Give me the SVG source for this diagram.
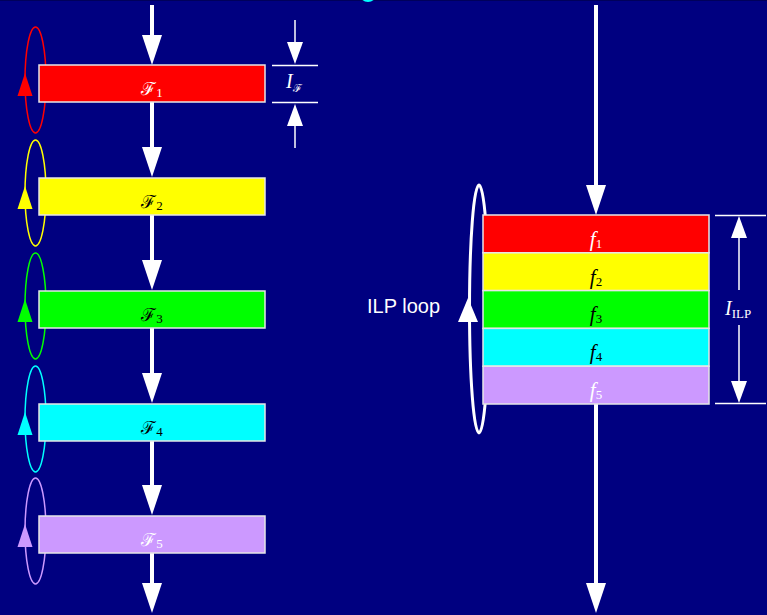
<svg xmlns="http://www.w3.org/2000/svg" width="767" height="615" viewBox="0 0 767 615">
  <style>
    .bg { fill: #000080; }
    .shaft { stroke: #ffffff; stroke-width: 4; fill: none; }
    .thin { stroke: #ffffff; stroke-width: 1.5; fill: none; }
    .head { fill: #ffffff; }
    .box { stroke: #e6e6e6; stroke-width: 1.5; }
    .loop { fill: none; stroke-width: 1.5; }
    .lbl { font-family: "DejaVu Serif", "Liberation Serif", serif; font-size: 18px; text-anchor: middle; }
    .sub { font-family: "Liberation Serif", serif; font-style: normal; font-size: 13px; }
    .fl { font-family: "Liberation Serif", serif; font-style: italic; font-size: 21px; text-anchor: middle; }
    .dim { font-family: "Liberation Serif", serif; font-style: italic; font-size: 20px; fill: #ffffff; }
    .w { fill: #ffffff; }
    .k { fill: #000000; }
  </style>
  <defs>
    <!-- large downward arrowhead, origin at top centre -->
    <path id="bigDown" class="head" d="M-10,0 L10,0 L0,30 Z"/>
    <!-- small dimension arrowheads, origin at the tip -->
    <path id="smDown" class="head" d="M-8,-22 L8,-22 L0,0 Z"/>
    <path id="smUp" class="head" d="M-8,22 L8,22 L0,0 Z"/>
    <!-- loop arrowhead, origin at loop centre height on the left edge -->
    <path id="loopUp" d="M0,-7 L7.5,16 L-7.5,16 Z"/>
  </defs>

  <rect class="bg" x="0" y="0" width="767" height="615"/>
  <rect x="0" y="0" width="767" height="1" fill="#00005a"/>
  <ellipse cx="368" cy="-5" rx="8" ry="7" fill="#00ffff"/>

  <!-- flow connectors -->
  <g id="connectors">
    <!-- left chain -->
    <line class="shaft" x1="152" y1="5" x2="152" y2="36"/>
    <use href="#bigDown" x="152" y="35"/>
    <line class="shaft" x1="152" y1="102" x2="152" y2="149"/>
    <use href="#bigDown" x="152" y="147"/>
    <line class="shaft" x1="152" y1="215" x2="152" y2="262"/>
    <use href="#bigDown" x="152" y="260"/>
    <line class="shaft" x1="152" y1="328" x2="152" y2="375"/>
    <use href="#bigDown" x="152" y="373"/>
    <line class="shaft" x1="152" y1="441" x2="152" y2="487"/>
    <use href="#bigDown" x="152" y="485"/>
    <line class="shaft" x1="152" y1="553" x2="152" y2="585"/>
    <use href="#bigDown" x="152" y="583"/>
    <!-- right chain -->
    <line class="shaft" x1="596" y1="5" x2="596" y2="187"/>
    <use href="#bigDown" x="596" y="185"/>
    <line class="shaft" x1="596" y1="404" x2="596" y2="585"/>
    <use href="#bigDown" x="596" y="583"/>
  </g>

  <!-- per-stage loops -->
  <g id="loop1">
    <ellipse class="loop" stroke="#ff0000" cx="35.5" cy="80" rx="10.5" ry="53"/>
    <use href="#loopUp" x="25" y="80" fill="#ff0000"/>
  </g>
  <g id="loop2">
    <ellipse class="loop" stroke="#ffff00" cx="35.5" cy="193" rx="10.5" ry="53"/>
    <use href="#loopUp" x="25" y="193" fill="#ffff00"/>
  </g>
  <g id="loop3">
    <ellipse class="loop" stroke="#00ff00" cx="35.5" cy="306" rx="10.5" ry="53"/>
    <use href="#loopUp" x="25" y="306" fill="#00ff00"/>
  </g>
  <g id="loop4">
    <ellipse class="loop" stroke="#00ffff" cx="35.5" cy="419" rx="10.5" ry="53"/>
    <use href="#loopUp" x="25" y="419" fill="#00ffff"/>
  </g>
  <g id="loop5">
    <ellipse class="loop" stroke="#cc99ff" cx="35.5" cy="531" rx="10.5" ry="53"/>
    <use href="#loopUp" x="25" y="531" fill="#cc99ff"/>
  </g>

  <!-- stages -->
  <g id="stage1">
    <rect class="box" x="39" y="65" width="226" height="37" fill="#ff0000"/>
    <text class="lbl w" x="152" y="95">ℱ<tspan class="sub" dy="2">1</tspan></text>
  </g>
  <g id="stage2">
    <rect class="box" x="39" y="178" width="226" height="37" fill="#ffff00"/>
    <text class="lbl k" x="152" y="208">ℱ<tspan class="sub" dy="2">2</tspan></text>
  </g>
  <g id="stage3">
    <rect class="box" x="39" y="291" width="226" height="37" fill="#00ff00"/>
    <text class="lbl k" x="152" y="321">ℱ<tspan class="sub" dy="2">3</tspan></text>
  </g>
  <g id="stage4">
    <rect class="box" x="39" y="404" width="226" height="37" fill="#00ffff"/>
    <text class="lbl k" x="152" y="434">ℱ<tspan class="sub" dy="2">4</tspan></text>
  </g>
  <g id="stage5">
    <rect class="box" x="39" y="516" width="226" height="37" fill="#cc99ff"/>
    <text class="lbl w" x="152" y="546">ℱ<tspan class="sub" dy="2">5</tspan></text>
  </g>

  <!-- stage interval dimension -->
  <g id="dimF">
    <line class="thin" x1="272" y1="65.5" x2="318" y2="65.5"/>
    <line class="thin" x1="272" y1="102.5" x2="318" y2="102.5"/>
    <line class="thin" x1="295" y1="20" x2="295" y2="43"/>
    <use href="#smDown" x="295" y="64"/>
    <line class="thin" x1="295" y1="125" x2="295" y2="148"/>
    <use href="#smUp" x="295" y="104"/>
    <text class="dim" x="286" y="88">I<tspan font-family="DejaVu Serif, serif" font-style="normal" font-size="11" dy="4">ℱ</tspan></text>
  </g>

  <!-- fused ILP loop -->
  <g id="ilpLoop">
    <ellipse fill="none" stroke="#ffffff" stroke-width="3" cx="479" cy="309" rx="9.5" ry="124"/>
    <path class="head" d="M468,298 L478,322 L458,322 Z"/>
    <text x="367" y="313" font-family="Liberation Sans, Arial, sans-serif" font-size="20" fill="#ffffff">ILP loop</text>
  </g>

  <!-- fused stage block -->
  <g id="fused">
    <rect class="box" x="483" y="215" width="226" height="37.8" fill="#ff0000"/>
    <rect class="box" x="483" y="252.8" width="226" height="37.8" fill="#ffff00"/>
    <rect class="box" x="483" y="290.6" width="226" height="37.8" fill="#00ff00"/>
    <rect class="box" x="483" y="328.4" width="226" height="37.8" fill="#00ffff"/>
    <rect class="box" x="483" y="366.2" width="226" height="37.8" fill="#cc99ff"/>
    <text class="fl w" x="596" y="246">f<tspan class="sub" dy="2">1</tspan></text>
    <text class="fl k" x="596" y="284">f<tspan class="sub" dy="2">2</tspan></text>
    <text class="fl k" x="596" y="321">f<tspan class="sub" dy="2">3</tspan></text>
    <text class="fl k" x="596" y="359">f<tspan class="sub" dy="2">4</tspan></text>
    <text class="fl w" x="596" y="397">f<tspan class="sub" dy="2">5</tspan></text>
  </g>

  <!-- fused interval dimension -->
  <g id="dimILP">
    <line class="thin" x1="715" y1="215.5" x2="766" y2="215.5"/>
    <line class="thin" x1="715" y1="403.5" x2="766" y2="403.5"/>
    <line class="thin" x1="739" y1="237" x2="739" y2="290"/>
    <line class="thin" x1="739" y1="325" x2="739" y2="382"/>
    <use href="#smUp" x="739" y="216"/>
    <use href="#smDown" x="739" y="403"/>
    <text class="dim" x="725" y="315">I<tspan font-style="normal" font-size="13" dy="3">ILP</tspan></text>
  </g>
</svg>
